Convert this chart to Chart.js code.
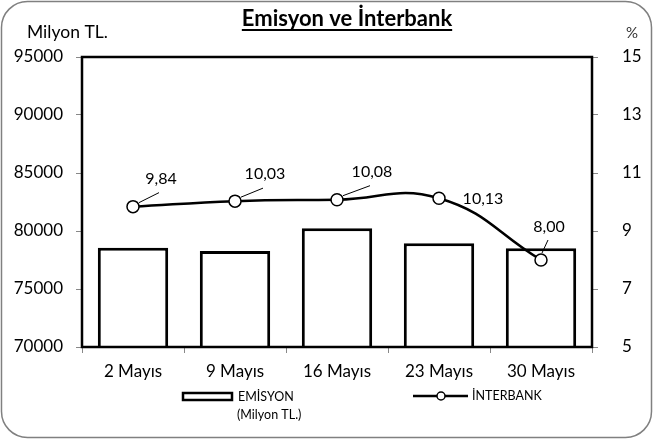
<!DOCTYPE html>
<html><head><meta charset="utf-8">
<script src="https://cdn.jsdelivr.net/npm/chart.js@4.4.1/dist/chart.umd.min.js"></script>
<style>html,body{margin:0;padding:0;background:#fff;}#wrap{width:653px;height:439px;position:relative;}</style>
</head><body><div id="wrap"><canvas id="c" width="653" height="439"></canvas></div>
<script>
const categories = ['2 Mayıs','9 Mayıs','16 Mayıs','23 Mayıs','30 Mayıs'];
const emisyon = [78560, 78280, 80230, 78940, 78510];
const interbank = [9.84, 10.03, 10.08, 10.13, 8.00];
const interbankLabels = ['9,84','10,03','10,08','10,13','8,00'];
const leftTicks = [70000, 75000, 80000, 85000, 90000, 95000];
const rightTicks = [5, 7, 9, 11, 13, 15];

const FONT = 'Lato, "Noto Sans", sans-serif';
const labelOffsets = [[28,-28],[30,-27],[35,-28],[44,1],[8,-33]];
const leaderLines = [true,true,true,false,true];

const decor = {
  id:'decor',
  beforeDraw(chart){
    const ctx = chart.ctx;
    ctx.save();
    ctx.fillStyle='#fff'; ctx.fillRect(0,0,653,439);
    ctx.strokeStyle='#808080'; ctx.lineWidth=1.5;
    ctx.beginPath(); ctx.roundRect(1.5,1.5,650,436,26); ctx.stroke();
    ctx.restore();
  },
  afterDraw(chart){
    const ctx = chart.ctx; const a = chart.chartArea;
    ctx.save();
    ctx.strokeStyle='#000'; ctx.lineWidth=2.5;
    ctx.strokeRect(a.left,a.top,a.right-a.left,a.bottom-a.top);
    // title
    ctx.fillStyle='#000';
    ctx.font='bold 22px '+FONT; ctx.textAlign='center'; ctx.textBaseline='alphabetic';
    const t='Emisyon ve İnterbank'; ctx.fillText(t,347,26);
    const w=ctx.measureText(t).width;
    ctx.lineWidth=1.8; ctx.beginPath(); ctx.moveTo(347-w/2,30); ctx.lineTo(347+w/2,30); ctx.stroke();
    ctx.font='17.5px '+FONT; ctx.textAlign='left'; ctx.fillText('Milyon TL.',27,38);
    ctx.textAlign='center'; ctx.font='15px '+FONT; ctx.fillStyle='#333'; ctx.fillText('%',632,38);
    // data labels
    const meta = chart.getDatasetMeta(1);
    ctx.font='16px '+FONT; ctx.textAlign='center'; ctx.textBaseline='middle';
    meta.data.forEach((p,i)=>{
      const [dx,dy]=labelOffsets[i];
      const lx=p.x+dx, ly=p.y+dy;
      ctx.fillStyle='#000'; ctx.fillText(interbankLabels[i],lx,ly);
      if(leaderLines[i]){
        ctx.lineWidth=1; ctx.beginPath();
        if(i===4){ctx.moveTo(p.x+1,p.y-7); ctx.lineTo(p.x+7,p.y-20);}
        else {ctx.moveTo(p.x+6,p.y-4); ctx.lineTo(p.x+dx-2,p.y+dy+14);}
        ctx.stroke();
      }
    });
    // legend
    ctx.lineWidth=2.5; ctx.strokeStyle='#000'; ctx.fillStyle='#fff';
    ctx.strokeRect(183,393,49,7);
    ctx.fillStyle='#000'; ctx.font='12.5px '+FONT; ctx.textAlign='left'; ctx.textBaseline='middle';
    ctx.fillText('EMİSYON',238,397);
    ctx.fillText('(Milyon TL.)',237,415);
    ctx.lineWidth=2.5; ctx.beginPath(); ctx.moveTo(413,396); ctx.lineTo(468,396); ctx.stroke();
    ctx.fillStyle='#fff'; ctx.lineWidth=1.5; ctx.beginPath(); ctx.arc(441,396,4,0,Math.PI*2); ctx.fill(); ctx.stroke();
    ctx.fillStyle='#000'; ctx.fillText('İNTERBANK',472,396);
    ctx.restore();
  }
};

new Chart(document.getElementById('c'),{
  data:{
    labels:categories,
    datasets:[
      {type:'bar',label:'EMİSYON (Milyon TL.)',data:emisyon,yAxisID:'y',backgroundColor:'#fff',borderColor:'#000',borderWidth:3,barPercentage:0.69,categoryPercentage:1,order:2},
      {type:'line',label:'İNTERBANK',data:interbank,yAxisID:'y1',borderColor:'#000',borderWidth:2.5,tension:0.45,pointRadius:6,pointBackgroundColor:'#fff',pointBorderColor:'#000',pointBorderWidth:1.5,order:1}
    ]
  },
  options:{
    responsive:false,animation:false,
    layout:{padding:{left:0,right:0,top:57,bottom:0}},
    plugins:{legend:{display:false},tooltip:{enabled:false},title:{display:false}},
    scales:{
      x:{offset:true,grid:{offset:true,drawOnChartArea:false,tickLength:6,color:'#888',lineWidth:1},border:{display:false},
         ticks:{color:'#000',font:{family:FONT,size:17},padding:8},
         afterFit(s){s.height=92;}},
      y:{position:'left',min:70000,max:95000,
         afterBuildTicks(s){s.ticks=leftTicks.map(v=>({value:v}));},
         grid:{drawOnChartArea:false,tickLength:6,color:'#888',lineWidth:1},border:{display:false},
         ticks:{color:'#000',font:{family:FONT,size:17},padding:13,callback:v=>String(v)},
         afterFit(s){s.width=82;}},
      y1:{position:'right',min:5,max:15,
         afterBuildTicks(s){s.ticks=rightTicks.map(v=>({value:v}));},
         grid:{drawOnChartArea:false,tickLength:6,color:'#888',lineWidth:1},border:{display:false},
         ticks:{color:'#000',font:{family:FONT,size:17},padding:24,callback:v=>String(v)},
         afterFit(s){s.width=61;}}
    }
  },
  plugins:[decor]
});
</script></body></html>
